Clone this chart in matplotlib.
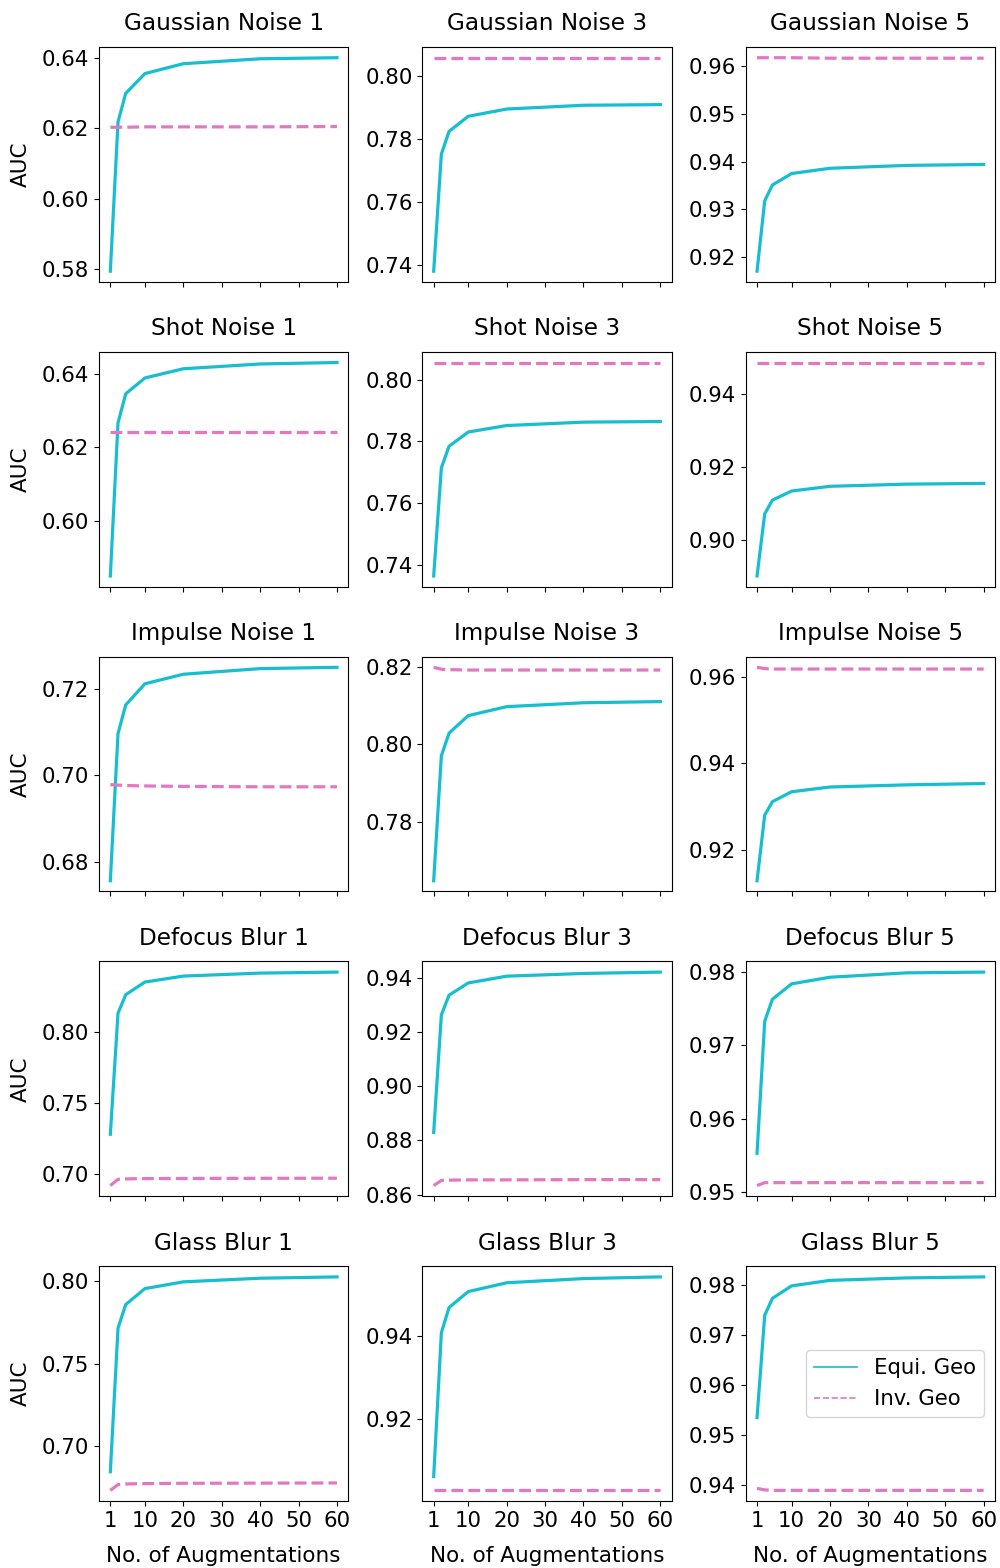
import numpy as np
import matplotlib
matplotlib.use('Agg')
import matplotlib.pyplot as plt
from matplotlib.lines import Line2D

n_aug = [1, 3, 5, 10, 20, 40, 60]
x_ticks = [1, 10, 20, 30, 40, 50, 60]

titles = ['Gaussian Noise 1', 'Gaussian Noise 3', 'Gaussian Noise 5',
          'Shot Noise 1', 'Shot Noise 3', 'Shot Noise 5',
          'Impulse Noise 1', 'Impulse Noise 3', 'Impulse Noise 5',
          'Defocus Blur 1', 'Defocus Blur 3', 'Defocus Blur 5',
          'Glass Blur 1', 'Glass Blur 3', 'Glass Blur 5']

# Equi. Geo (solid) per panel
equi = [
    [0.5795, 0.6218, 0.6299, 0.6355, 0.6383, 0.6397, 0.6400],
    [0.7379, 0.7751, 0.7823, 0.7871, 0.7894, 0.7906, 0.7908],
    [0.9171, 0.9318, 0.9351, 0.9375, 0.9386, 0.9392, 0.9394],
    [0.5850, 0.6266, 0.6345, 0.6388, 0.6413, 0.6426, 0.6430],
    [0.7364, 0.7714, 0.7784, 0.7830, 0.7851, 0.7862, 0.7864],
    [0.8900, 0.9071, 0.9109, 0.9134, 0.9147, 0.9153, 0.9155],
    [0.6756, 0.7096, 0.7162, 0.7211, 0.7233, 0.7246, 0.7249],
    [0.7650, 0.7971, 0.8029, 0.8074, 0.8097, 0.8107, 0.8110],
    [0.9128, 0.9280, 0.9311, 0.9334, 0.9345, 0.9350, 0.9353],
    [0.7279, 0.8131, 0.8261, 0.8350, 0.8392, 0.8413, 0.8420],
    [0.8829, 0.9262, 0.9335, 0.9380, 0.9405, 0.9415, 0.9420],
    [0.9553, 0.9733, 0.9763, 0.9784, 0.9793, 0.9799, 0.9800],
    [0.6843, 0.7715, 0.7858, 0.7955, 0.7996, 0.8018, 0.8026],
    [0.9064, 0.9407, 0.9467, 0.9505, 0.9526, 0.9536, 0.9540],
    [0.9535, 0.9740, 0.9774, 0.9799, 0.9810, 0.9815, 0.9817],
]

# Inv. Geo (dashed) per panel
inv = [
    [0.6203, 0.6203, 0.6203, 0.6204, 0.6204, 0.6204, 0.6205],
    [0.8057, 0.8057, 0.8057, 0.8057, 0.8057, 0.8057, 0.8057],
    [0.9617, 0.9617, 0.9617, 0.9617, 0.9616, 0.9616, 0.9616],
    [0.6242, 0.6242, 0.6242, 0.6242, 0.6242, 0.6242, 0.6242],
    [0.8055, 0.8055, 0.8055, 0.8055, 0.8055, 0.8055, 0.8055],
    [0.9488, 0.9488, 0.9488, 0.9488, 0.9488, 0.9488, 0.9488],
    [0.6978, 0.6977, 0.6976, 0.6975, 0.6974, 0.6973, 0.6973],
    [0.8198, 0.8193, 0.8192, 0.8191, 0.8191, 0.8191, 0.8191],
    [0.9622, 0.9619, 0.9618, 0.9618, 0.9618, 0.9618, 0.9618],
    [0.6918, 0.6962, 0.6965, 0.6967, 0.6968, 0.6969, 0.6970],
    [0.8633, 0.8652, 0.8653, 0.8654, 0.8654, 0.8655, 0.8655],
    [0.9509, 0.9513, 0.9513, 0.9513, 0.9513, 0.9513, 0.9513],
    [0.6730, 0.6765, 0.6769, 0.6771, 0.6773, 0.6774, 0.6775],
    [0.9031, 0.9031, 0.9031, 0.9031, 0.9031, 0.9031, 0.9031],
    [0.9393, 0.9390, 0.9389, 0.9389, 0.9389, 0.9389, 0.9389],
]

plt.rcParams['font.size'] = 15.3

fig, axes = plt.subplots(5, 3, figsize=(10, 15.68), dpi=100, sharex=True)
fig.subplots_adjust(left=0.099, right=0.995, top=0.970, bottom=0.0427,
                    wspace=0.297, hspace=0.298)

for i, ax in enumerate(axes.flat):
    ax.plot(n_aug, equi[i], color='tab:cyan', lw=2.3)
    ax.plot(n_aug, inv[i], color='tab:pink', lw=2.3, ls='--')
    ax.set_title(titles[i], fontsize=16.7, pad=12)
    ax.set_xticks(x_ticks)
    if i % 3 == 0:
        ax.set_ylabel('AUC', fontsize=15.5, labelpad=8)
    if i >= 12:
        ax.set_xlabel('No. of Augmentations', fontsize=15.5, labelpad=11)

handles = [Line2D([], [], color='tab:cyan', lw=1.2),
           Line2D([], [], color='tab:pink', lw=1.2, ls='--')]
axes[4, 2].legend(handles, ['Equi. Geo', 'Inv. Geo'], loc='center right')

plt.savefig('out.png')
